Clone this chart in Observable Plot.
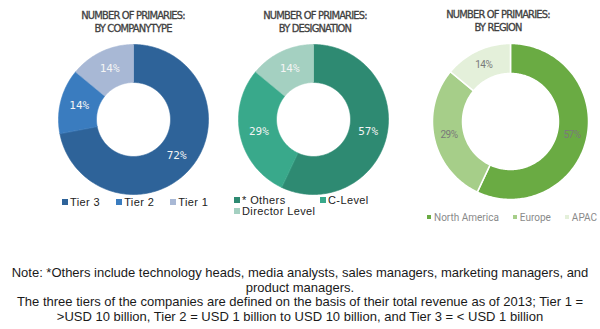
<!DOCTYPE html>
<html><head><meta charset="utf-8">
<script src="https://cdn.jsdelivr.net/npm/d3@7"></script>
<script src="https://cdn.jsdelivr.net/npm/@observablehq/plot@0.6"></script>
<style>
body{margin:0;background:#fff;}
#root{position:relative;width:600px;height:329px;overflow:hidden;background:#fff;}
.title{position:absolute;width:200px;text-align:center;font-family:"Liberation Sans Narrow","DejaVu Sans Condensed",sans-serif;font-size:11px;line-height:13px;color:#404040;letter-spacing:-0.8px;-webkit-text-stroke:0.3px #404040;white-space:pre;}
.plot{position:absolute;}
.legend{position:absolute;display:flex;align-items:center;white-space:nowrap;}
.legend .item{display:flex;align-items:center;}
.legend .sw{display:inline-block;}
.note{position:absolute;left:10px;width:580px;top:266px;text-align:center;font-family:"Liberation Sans",Arial,sans-serif;font-size:13px;line-height:14.7px;color:#1a1a1a;}
</style></head><body><div id="root"></div>
<script>
// ---- data ----
const companyTypes = ["Tier 3", "Tier 2", "Tier 1"];
const companyShares = [72, 14, 14];
const companyColors = ["#2e6399", "#3a7cbf", "#a8b8d5"];

const designations = ["* Others", "C-Level", "Director Level"];
const designationShares = [57, 29, 14];
const designationColors = ["#2e8a72", "#39a98b", "#a4d0c1"];

const regions = ["North America", "Europe", "APAC"];
const regionShares = [57, 29, 14];
const regionColors = ["#6aab43", "#a6ce89", "#e4f0da"];

const titles = [
  "NUMBER OF PRIMARIES:\nBY COMPANYTYPE",
  "NUMBER OF PRIMARIES:\nBY DESIGNATION",
  "NUMBER OF PRIMARIES:\nBY REGION"
];
const noteText = "Note: *Others include technology heads, media analysts, sales managers, marketing managers, and product managers.<br>The three tiers of the companies are defined on the basis of their total revenue as of 2013; Tier 1 = &gt;USD 10 billion, Tier 2 = USD 1 billion to USD 10 billion, and Tier 3 = &lt; USD 1 billion";

const root = document.getElementById("root");

function donut(cats, vals, colors, opt) {
  const {inner, outer, cx, cy, labelFill, labelFont, labelSize, labelSpacing, gap} = opt;
  const total = d3.sum(vals);
  const pts = [], labels = [];
  let acc = 0;
  cats.forEach((c, i) => {
    const a0 = acc / total * 2 * Math.PI;
    acc += vals[i];
    const a1 = acc / total * 2 * Math.PI;
    const n = Math.max(2, Math.ceil((a1 - a0) / (Math.PI / 180)));
    for (let k = 0; k <= n; k++) { const a = a0 + (a1 - a0) * k / n; pts.push({cat: c, x: outer * Math.sin(a), y: outer * Math.cos(a)}); }
    for (let k = n; k >= 0; k--) { const a = a0 + (a1 - a0) * k / n; pts.push({cat: c, x: inner * Math.sin(a), y: inner * Math.cos(a)}); }
    const am = (a0 + a1) / 2, rm = (inner + outer) / 2;
    labels.push({cat: c, x: rm * Math.sin(am), y: rm * Math.cos(am), text: vals[i] + "%"});
  });
  const m = 4;
  const size = 2 * outer + 2 * m;
  const svg = Plot.plot({
    width: size, height: size, margin: m,
    x: {domain: [-outer, outer], axis: null},
    y: {domain: [-outer, outer], axis: null},
    color: {domain: cats, range: colors},
    style: {background: "transparent", overflow: "visible"},
    marks: [
      Plot.line(pts, {x: "x", y: "y", z: "cat", fill: "cat", stroke: gap ? "white" : "cat", strokeWidth: gap ? gap : 0.6, curve: "linear-closed"}),
      Plot.text(labels, {x: "x", y: "y", text: "text", fill: labelFill, fontFamily: labelFont, fontSize: labelSize})
    ]
  });
  svg.querySelectorAll("text").forEach(t => t.style.letterSpacing = labelSpacing || "0px");
  svg.classList.add("plot");
  svg.style.left = (cx - size / 2) + "px";
  svg.style.top = (cy - size / 2) + "px";
  root.appendChild(svg);
}

donut(companyTypes, companyShares, companyColors, {inner: 37, outer: 75, cx: 133, cy: 119, labelFill: "#f4f4f4", labelFont: "DejaVu Sans Mono", labelSize: 11});
donut(designations, designationShares, designationColors, {inner: 37, outer: 75, cx: 313, cy: 119, labelFill: "#f4f4f4", labelFont: "DejaVu Sans Mono", labelSize: 11});
donut(regions, regionShares, regionColors, {inner: 48, outer: 78, cx: 510, cy: 121, labelFill: "#7a7a7a", labelFont: "Roboto", labelSize: 10, labelSpacing: "-0.5px", gap: 1.5});

// titles
[[133, 9], [315, 9], [498, 8]].forEach(([cx, top], i) => {
  const d = document.createElement("div");
  d.className = "title";
  d.textContent = titles[i];
  d.style.left = (cx - 100) + "px";
  d.style.top = top + "px";
  root.appendChild(d);
});

function legend(cats, colors, cfg) {
  const d = document.createElement("div");
  d.className = "legend";
  Object.assign(d.style, cfg.box);
  cats.forEach((c, i) => {
    const it = document.createElement("div");
    it.className = "item";
    const sw = document.createElement("span");
    sw.className = "sw";
    Object.assign(sw.style, {width: cfg.sw + "px", height: cfg.sw + "px", background: colors[i], marginRight: cfg.swGap + "px"});
    const tx = document.createElement("span");
    tx.textContent = c;
    it.appendChild(sw); it.appendChild(tx);
    d.appendChild(it);
  });
  root.appendChild(d);
}

legend(companyTypes, companyColors, {
  box: {left: "62px", top: "196px", height: "12px", gap: "16px", fontFamily: "'Liberation Sans', Arial, sans-serif", fontSize: "11px", color: "#222", letterSpacing: "0.4px"},
  sw: 6, swGap: 2
});
legend(designations, designationColors, {
  box: {left: "234px", top: "194px", display: "grid", gridTemplateColumns: "86px 86px", gridAutoRows: "11px", fontFamily: "'Liberation Sans', Arial, sans-serif", fontSize: "11px", color: "#222", letterSpacing: "0.4px"},
  sw: 6, swGap: 2
});
legend(regions, regionColors, {
  box: {left: "427px", top: "211px", height: "12px", gap: "14px", fontFamily: "Roboto, sans-serif", fontSize: "10px", color: "#8a8a8a"},
  sw: 4, swGap: 3
});

const note = document.createElement("div");
note.className = "note";
note.innerHTML = noteText;
root.appendChild(note);
</script></body></html>
